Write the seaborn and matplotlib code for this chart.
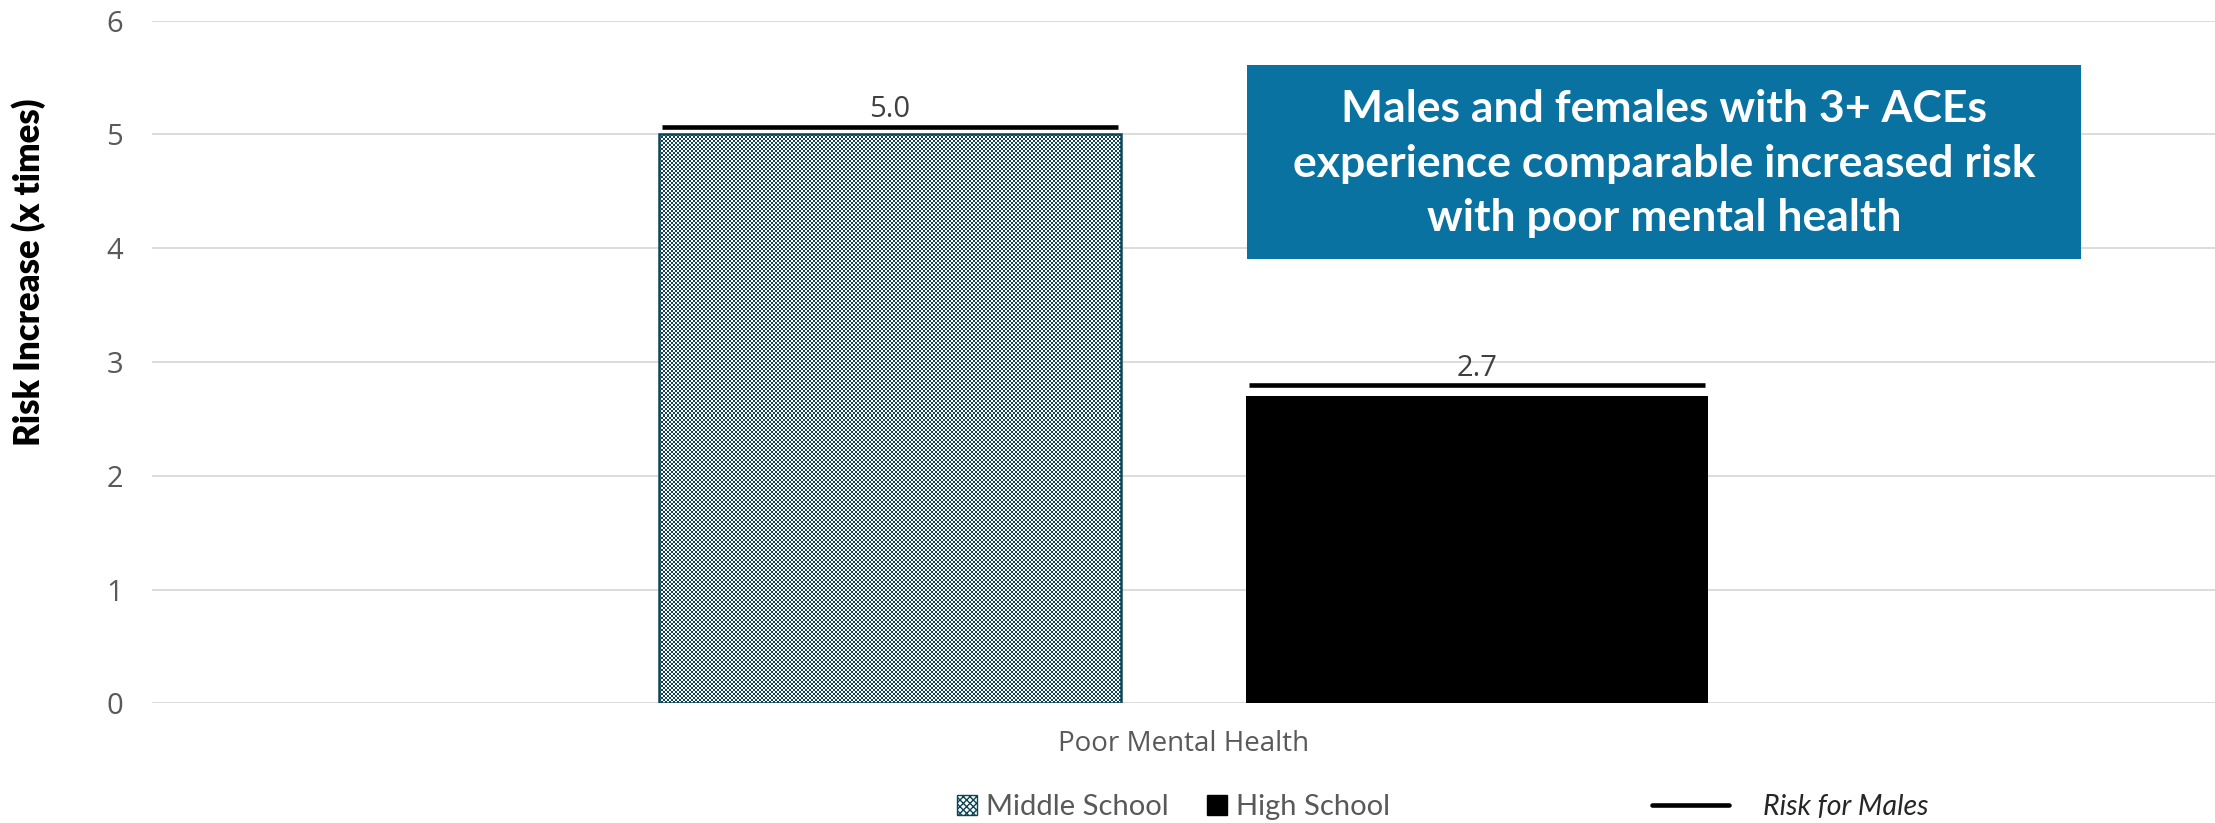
import matplotlib
matplotlib.use("Agg")
import matplotlib.pyplot as plt
import seaborn as sns
import numpy as np
import pandas as pd
from matplotlib.patches import Patch, Rectangle
from matplotlib.lines import Line2D
from matplotlib.colors import ListedColormap
from matplotlib.font_manager import FontProperties

# ---- data ----
categories = ["Poor Mental Health"]
school_levels = ["Middle School", "High School"]
risk_values = [5.0, 2.7]          # risk increase for females
male_risk = [5.07, 2.8]           # reference risk for males
y_ticks = [0, 1, 2, 3, 4, 5, 6]
headline_lines = ["Males and females with 3+ ACEs",
                  "experience comparable increased risk",
                  "with poor mental health"]

df = pd.DataFrame({
    "category": categories * len(school_levels),
    "level": school_levels,
    "risk": risk_values,
})

sns.set_theme(style="white")
plt.rcParams["font.family"] = ["Open Sans", "DejaVu Sans"]
plt.rcParams["hatch.linewidth"] = 1.0

TEAL = "#0D4556"
GRID = "#D9D9D9"
TXT = "#595959"

W, H = 2215, 823
fig = plt.figure(figsize=(W / 100, H / 100), dpi=100)
ax = fig.add_axes([152 / W, 1 - 703.3 / H, 1 - 152 / W, (703.3 - 20.7) / H])

palette = {"Middle School": "white", "High School": "black"}
sns.barplot(data=df, x="category", y="risk", hue="level", hue_order=school_levels,
            palette=palette, width=0.569, gap=0.213, ax=ax, legend=False,
            edgecolor="none", linewidth=0)

ax.set_xlim(-0.5, 0.5)
ax.set_ylim(0, 6)
ax.set_yticks(y_ticks)

bars = [c[0] for c in ax.containers]

# checkerboard fill for the middle-school bar
mbar = bars[0]
x0, y0 = mbar.get_x(), mbar.get_y()
bw, bh = mbar.get_width(), mbar.get_height()
p0 = ax.transData.transform((x0, y0))
p1 = ax.transData.transform((x0 + bw, y0 + bh))
nx = max(1, int(round((p1[0] - p0[0]) / 2)))
ny = max(1, int(round((p1[1] - p0[1]) / 2)))
checker = np.add.outer(np.arange(ny), np.arange(nx)) % 2
img = ax.imshow(checker, extent=(x0, x0 + bw, y0, y0 + bh), origin="lower",
                cmap=ListedColormap(["white", TEAL]), interpolation="nearest",
                aspect="auto", zorder=2.1)
img.set_clip_path(mbar)
ax.add_patch(Rectangle((x0, y0), bw, bh, fill=False, edgecolor=TEAL, lw=1.8, zorder=2.2))
ax.set_xlim(-0.5, 0.5)
ax.set_ylim(0, 6)

# male reference lines and value labels
for bar, val, ref in zip(bars, risk_values, male_risk):
    cx = bar.get_x() + bar.get_width() / 2
    half = bar.get_width() * 0.494
    ax.hlines(ref, cx - half, cx + half, color="black", lw=3.3, zorder=3)
    ax.annotate(f"{val:.1f}", (cx, ref), xytext=(0, 6.5), textcoords="offset points",
                ha="center", va="baseline", fontsize=21, color="#404040")

# axes styling
for s in ax.spines.values():
    s.set_visible(False)
ax.yaxis.grid(True, color=GRID, lw=1.3)
ax.set_axisbelow(True)
ax.tick_params(axis="y", length=0, pad=21, labelsize=21, labelcolor=TXT)
ax.tick_params(axis="x", length=0, pad=19, labelsize=20, labelcolor=TXT)
ax.set_xlabel("")
ax.set_ylabel("")

fig.text(29 / W, 1 - 272 / H, "Risk Increase (x times)", rotation=90, ha="center",
         va="center", fontweight="heavy", family=["Lato", "DejaVu Sans"], fontsize=25,
         color="black")

# headline box, one text per line for exact line spacing
bx0, bx1, by0, by1 = 1247, 2081, 65, 259
fig.patches.append(Rectangle((bx0 / W, 1 - by1 / H), (bx1 - bx0) / W, (by1 - by0) / H,
                             transform=fig.transFigure, facecolor="#0A72A0",
                             edgecolor="none", zorder=5))
line_centers = [106, 160.5, 215]
for txt, yc in zip(headline_lines, line_centers):
    fig.text((bx0 + bx1) / 2 / W, 1 - yc / H, txt, ha="center", va="center_baseline",
             color="white", fontweight="bold", family=["Lato", "DejaVu Sans"],
             fontsize=32, zorder=6)

# legends
h1 = [Patch(facecolor="white", edgecolor=TEAL, hatch="xxxxx", lw=1),
      Patch(facecolor="black", edgecolor="black")]
leg1 = fig.legend(h1, school_levels, loc="center", bbox_to_anchor=(1173.5 / W, 1 - 807 / H),
                  ncol=2, frameon=False, prop=FontProperties(family="Lato", size=21),
                  handlelength=0.7, handleheight=0.7, handletextpad=0.3,
                  columnspacing=1.3, labelcolor=TXT, borderaxespad=0, borderpad=0)
leg2 = fig.legend([Line2D([], [], color="black", lw=3.3)], ["Risk for Males"], loc="center",
                  bbox_to_anchor=(1790 / W, 1 - 807 / H), frameon=False,
                  prop=FontProperties(family="Lato", style="italic", size=20.5),
                  handlelength=2.7, handletextpad=1.2, labelcolor="#262626",
                  borderaxespad=0, borderpad=0)

fig.savefig("out.png", dpi=100)
